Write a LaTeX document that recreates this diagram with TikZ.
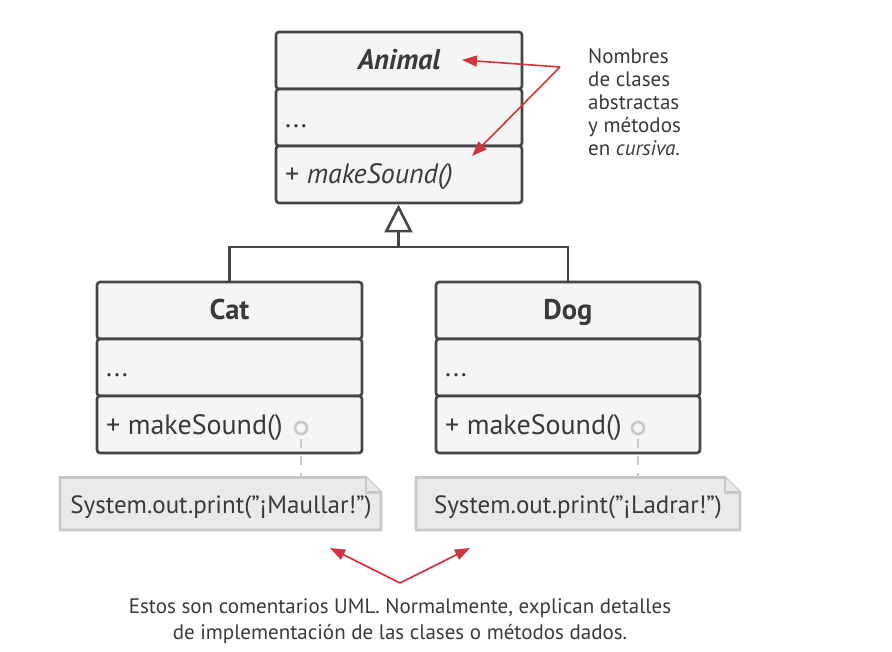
\documentclass[tikz,border=0pt]{standalone}
\usepackage{fontspec}
\setmainfont{PT Sans}
\usetikzlibrary{arrows.meta,calc}
\definecolor{boxfill}{HTML}{F5F5F5}
\definecolor{boxline}{HTML}{454545}
\definecolor{txt}{HTML}{3A3A3A}
\definecolor{notefill}{HTML}{EAEAEA}
\definecolor{noteline}{HTML}{C8C8C8}
\definecolor{redc}{HTML}{D1343C}
\tikzset{
  compart/.style={draw=boxline, fill=boxfill, line width=2.6pt, rounded corners=3pt, inner sep=0pt},
  headtxt/.style={text=txt, font=\fontsize{28.5}{32}\selectfont\bfseries, anchor=base, inner sep=0pt},
  bodytxt/.style={text=txt, font=\fontsize{28}{32}\selectfont, anchor=base west, inner sep=0pt},
  notetxt/.style={text=txt, font=\fontsize{25}{28}\selectfont, anchor=base, inner sep=0pt},
  noteshape/.style={draw=noteline, fill=notefill, line width=2.6pt},
  genline/.style={draw=boxline, line width=2.6pt},
  redarrow/.style={draw=redc, line width=1.6pt, -{Triangle[length=15pt,width=11pt]}},
  linkdot/.style={circle, draw=noteline, fill=boxfill, line width=2.6pt, minimum size=12pt, inner sep=0pt},
  linkline/.style={draw=noteline, line width=2.6pt, dash pattern=on 9pt off 8pt, dash phase=-4pt},
  anntxt/.style={text=txt, font=\fontsize{21}{23}\selectfont, inner sep=0pt}
}
\begin{document}
\begin{tikzpicture}[x=1pt,y=-1pt]
\useasboundingbox (0,0) rectangle (892,652);
% Animal
\node[compart, minimum width=246pt, minimum height=57pt] (animalH) at (399,60.5) {};
\node[compart, minimum width=246pt, minimum height=57pt] (animalA) at (399,117.5) {};
\node[compart, minimum width=246pt, minimum height=57pt] (animalM) at (399,174.5) {};
\node[headtxt, font=\fontsize{28.5}{32}\selectfont\bfseries\itshape] (animalT) at (399,70) {Animal};
\node[bodytxt] (animalAt) at (285,128) {...};
\node[bodytxt] (animalMt) at (285,184) {+ \textit{makeSound()}};
% Cat
\node[compart, minimum width=265pt, minimum height=57pt] (catH) at (229.5,310.5) {};
\node[compart, minimum width=265pt, minimum height=57pt] (catA) at (229.5,367.5) {};
\node[compart, minimum width=265pt, minimum height=57pt] (catM) at (229.5,424.5) {};
\node[headtxt] (catT) at (229.5,320) {Cat};
\node[bodytxt] (catAt) at (106,377) {...};
\node[bodytxt] (catMt) at (106,434) {+ makeSound()};
% Dog
\node[compart, minimum width=264pt, minimum height=57pt] (dogH) at (568,310.5) {};
\node[compart, minimum width=264pt, minimum height=57pt] (dogA) at (568,367.5) {};
\node[compart, minimum width=264pt, minimum height=57pt] (dogM) at (568,424.5) {};
\node[headtxt] (dogT) at (568,320) {Dog};
\node[bodytxt] (dogAt) at (445,377) {...};
\node[bodytxt] (dogMt) at (445,434) {+ makeSound()};
% generalization
\coordinate (junc) at (398.5,247);
\draw[genline] (catH.north) |- (junc) -| (dogH.north);
\draw[genline, -{Triangle[open, length=28pt, width=28pt, fill=white]}] (junc) -- (398.5,204.5);
% notes
\draw[noteshape] (60,477.5) -- (366,477.5) -- (381,492.5) -- (381,530) -- (60,530) -- cycle;
\draw[noteshape] (366,477.5) -- (366,492.5) -- (381,492.5);
\draw[noteshape] (416,477.5) -- (725,477.5) -- (740,492.5) -- (740,530) -- (416,530) -- cycle;
\draw[noteshape] (725,477.5) -- (725,492.5) -- (740,492.5);
\node[notetxt] (catN) at (221,513) {System.out.print(\symbol{34}¡Maullar!\symbol{34})};
\node[notetxt] (dogN) at (578,513) {System.out.print(\symbol{34}¡Ladrar!\symbol{34})};
% links
\node[linkdot] (catC) at (301,428) {};
\node[linkdot] (dogC) at (638,428) {};
\coordinate (catNt) at (301,477);
\coordinate (dogNt) at (638,477);
\draw[linkline] (catC.south) -- (catNt);
\draw[linkline] (dogC.south) -- (dogNt);
% annotation top
\node[anntxt, anchor=north west, align=left] (ann1) at (588,48) {Nombres\\de clases\\abstractas\\y métodos\\en \textit{cursiva}.};
\coordinate (apex1) at (560,67);
\coordinate (tipA) at (462,60);
\coordinate (tipB) at (472,156);
\draw[redarrow] (apex1) -- (tipA);
\draw[redarrow] (apex1) -- (tipB);
% annotation bottom
\coordinate (apex2) at (400,583);
\coordinate (tipC) at (330,548);
\coordinate (tipD) at (470,548);
\draw[redarrow] (apex2) -- (tipC);
\draw[redarrow] (apex2) -- (tipD);
\node[anntxt, font=\fontsize{21}{26}\selectfont, align=center, anchor=north] (ann2) at (400,598) {Estos son comentarios UML. Normalmente, explican detalles\\de implementación de las clases o métodos dados.};
\end{tikzpicture}
\end{document}
